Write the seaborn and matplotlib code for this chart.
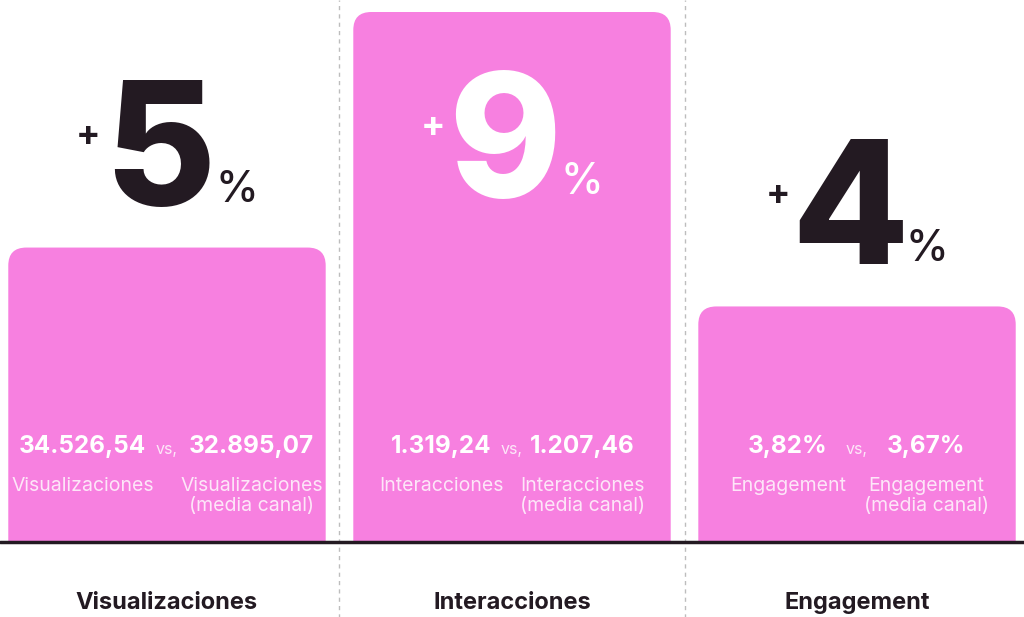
import matplotlib
matplotlib.use("Agg")
import matplotlib.pyplot as plt
from matplotlib.patches import FancyBboxPatch
import seaborn as sns
import pandas as pd

# data
categories = ["Visualizaciones", "Interacciones", "Engagement"]
growth = [5, 9, 4]
own_values = ["34.526,54", "1.319,24", "3,82%"]
avg_values = ["32.895,07", "1.207,46", "3,67%"]
own_labels = ["Visualizaciones", "Interacciones", "Engagement"]
avg_labels = ["Visualizaciones\n(media canal)", "Interacciones\n(media canal)", "Engagement\n(media canal)"]

df = pd.DataFrame({"cat": categories, "growth": growth})

pink = "#F780E0"
dark = "#231A22"
soft = "#FDE6F8"

sns.set_theme(style="white")
plt.rcParams["font.family"] = ["Inter", "DejaVu Sans"]

fig = plt.figure(figsize=(10.24, 6.17), dpi=100)
ax = fig.add_axes([0, 75 / 617, 1, 542 / 617])

sns.barplot(data=df, x="cat", y="growth", color=pink, width=0.92, ax=ax, saturation=1)

ax.set_xlim(-0.484, 2.484)
ax.set_ylim(0, 9 * 542 / 530)
ax.set_xlabel("")
ax.set_ylabel("")
ax.set_yticks([])
ax.tick_params(axis="x", length=0, pad=36, labelsize=17, labelcolor=dark)
for lbl in ax.get_xticklabels():
    lbl.set_fontweight("bold")
sns.despine(ax=ax, left=True, bottom=True)

# px per data unit
ux = 1024 / (2.484 + 0.484)
uy = 542 / ax.get_ylim()[1]
r = 18

# rounded-top bars on top of seaborn's bars
for p in ax.patches[:]:
    x0, w, h = p.get_x(), p.get_width(), p.get_height()
    p.set_visible(False)
    box = FancyBboxPatch((x0, -1.0), w, h + 1.0,
                         boxstyle=f"round,pad=0,rounding_size={r / ux}",
                         mutation_aspect=ux / uy, fc=pink, ec="none", zorder=2)
    ax.add_patch(box)

ax.axhline(0, color=dark, lw=2.5, zorder=4, clip_on=False)
for xs in [0.5, 1.5]:
    ax.axvline(xs, ymin=-0.14, ymax=1, color="#BDBDBD", lw=1, ls=(0, (3, 3)), clip_on=False, zorder=1)

vmax = max(growth)
side_off = [0.245, 0.205, 0.2]
for i, v in enumerate(growth):
    inside = v == vmax
    col = "white" if inside else dark
    ybase = 5.86 if inside else v + 0.72
    xc = i - 0.02
    ax.text(xc, ybase, str(v), ha="center", va="baseline", fontsize=123,
            fontweight="heavy", color=col, zorder=5)
    ax.annotate("+", (xc, ybase), xytext=(-72, 69), textcoords="offset pixels",
                ha="center", va="center", fontsize=26, fontweight="bold", color=col, zorder=5)
    ax.annotate("%", (xc, ybase), xytext=(77, 3), textcoords="offset pixels",
                ha="center", va="baseline", fontsize=31, fontweight="medium", color=col, zorder=5)

    o = side_off[i]
    yv = (542 - 447) / uy
    ax.text(i - o, yv, own_values[i], ha="center", va="center", fontsize=17.5,
            fontweight="bold", color="white", zorder=5)
    ax.text(i, yv - 0.05, "vs,", ha="center", va="center", fontsize=11.5,
            color=soft, zorder=5)
    ax.text(i + o, yv, avg_values[i], ha="center", va="center", fontsize=17.5,
            fontweight="bold", color="white", zorder=5)
    yl = (542 - 477) / uy
    ax.text(i - o, yl, own_labels[i], ha="center", va="top", fontsize=14,
            fontweight="normal", color=soft, zorder=5)
    ax.text(i + o, yl, avg_labels[i], ha="center", va="top", fontsize=14,
            fontweight="normal", color=soft, linespacing=1.15, zorder=5)

fig.savefig("out.png", dpi=100, facecolor="white")
